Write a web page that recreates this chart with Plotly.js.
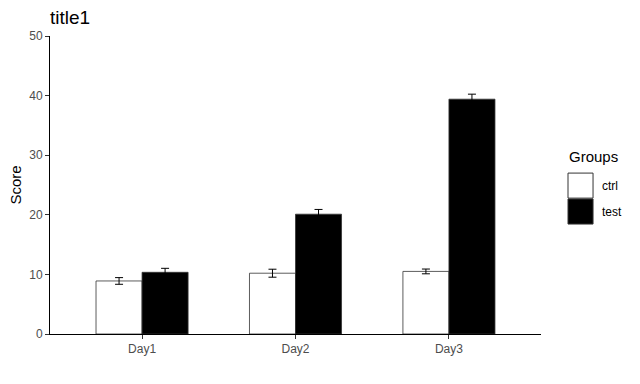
<!DOCTYPE html>
<html>
<head>
<meta charset="utf-8">
<script src="https://cdn.plot.ly/plotly-3.0.1.min.js"></script>
<style>html,body{margin:0;padding:0;background:#fff}#chart{width:640px;height:384px}</style>
</head>
<body>
<div id="chart"></div>
<script>
const categories = ["Day1", "Day2", "Day3"];
const groups = ["ctrl", "test"];
const ctrlValues = [8.9, 10.2, 10.5];
const ctrlErrors = [0.56, 0.67, 0.4];
const testValues = [10.35, 20.1, 39.4];
const testErrors = [0.67, 0.8, 0.84];
const yTicks = [0, 10, 20, 30, 40, 50];

const fillColors = {ctrl: "#ffffff", test: "#000000"};
const seriesValues = {ctrl: ctrlValues, test: testValues};
const seriesErrors = {ctrl: ctrlErrors, test: testErrors};

const traces = groups.map(g => ({
  type: "bar",
  name: g,
  x: categories,
  y: seriesValues[g],
  marker: {color: fillColors[g], line: {color: "#333333", width: 0.8}},
  error_y: {type: "data", array: seriesErrors[g], visible: true, color: "#000000", thickness: 1, width: 4},
  showlegend: false
}));

const font = "Liberation Sans, Arial, sans-serif";
const shapes = [];
const annotations = [];
// custom legend (ggplot style keys)
annotations.push({xref: "paper", yref: "paper", x: 1.052, y: 0.595, xanchor: "left", yanchor: "middle",
  text: "Groups", showarrow: false, font: {family: font, size: 15, color: "#000"}});
groups.forEach((g, i) => {
  const top = 0.54 - i * 0.087;
  shapes.push({type: "rect", xref: "paper", yref: "paper", x0: 1.055, x1: 1.106, y0: top - 0.084, y1: top,
    fillcolor: fillColors[g], line: {color: "#333333", width: 1}});
  annotations.push({xref: "paper", yref: "paper", x: 1.121, y: top - 0.042, xanchor: "left", yanchor: "middle",
    text: g, showarrow: false, font: {family: font, size: 12, color: "#000"}});
});

const layout = {
  width: 640, height: 384,
  margin: {l: 50, r: 99, t: 36, b: 50},
  paper_bgcolor: "#fff", plot_bgcolor: "#fff",
  barmode: "group", bargap: 0.4, bargroupgap: 0,
  title: {text: "title1", x: 0.078, xanchor: "left", y: 0.955, yanchor: "middle",
    font: {family: font, size: 19, color: "#000"}},
  xaxis: {type: "category", range: [-0.6, 2.6], showline: true, linecolor: "#000", linewidth: 1,
    ticks: "outside", ticklen: 4, tickcolor: "#333", showgrid: false, zeroline: false,
    tickfont: {family: font, size: 12, color: "#4d4d4d"}},
  yaxis: {range: [0, 50], tickvals: yTicks, ticktext: yTicks.map(String), showline: true, linecolor: "#000", linewidth: 1,
    ticks: "outside", ticklen: 4, tickcolor: "#333", showgrid: false, zeroline: false,
    tickfont: {family: font, size: 12, color: "#4d4d4d"},
    title: {text: "Score", standoff: 3, font: {family: font, size: 15, color: "#000"}}},
  shapes: shapes,
  annotations: annotations,
  showlegend: false
};

Plotly.newPlot("chart", traces, layout, {displayModeBar: false, staticPlot: true});
</script>
</body>
</html>
